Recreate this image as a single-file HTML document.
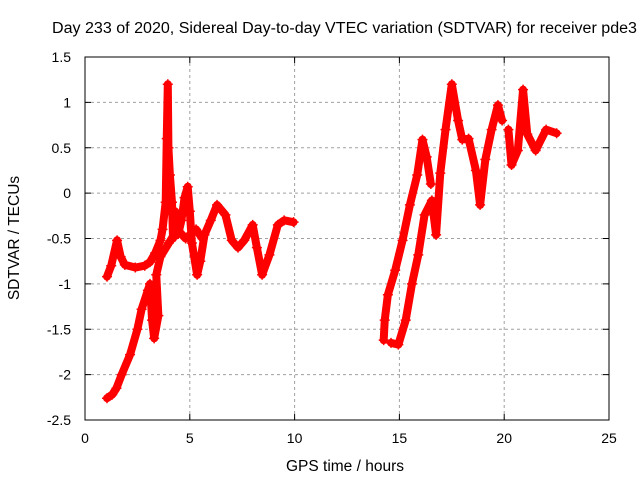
<!DOCTYPE html>
<html><head><meta charset="utf-8"><style>
body{margin:0;background:#fff;}
svg{display:block;font-family:"Liberation Sans",sans-serif;}
</style></head><body>
<svg id="chart" width="640" height="480" viewBox="0 0 640 480">
<text x="344.5" y="33" text-anchor="middle" font-size="15.5" textLength="585" lengthAdjust="spacingAndGlyphs">Day 233 of 2020, Sidereal Day-to-day VTEC variation (SDTVAR) for receiver pde3</text>
<text x="345" y="471" text-anchor="middle" font-size="15.5">GPS time / hours</text>
<text transform="translate(19,238) rotate(-90)" text-anchor="middle" font-size="15.5">SDTVAR / TECUs</text>
<g id="grid"></g>
<g id="ticks"></g>
<g id="series"></g>
<rect x="85" y="57" width="524" height="363" fill="none" stroke="#000" stroke-width="1"/>
</svg>
<script>
const xTicks=[0,5,10,15,20,25];
const yTicks=[1.5,1,0.5,0,-0.5,-1,-1.5,-2,-2.5];
const yTickLabels=["1.5","1","0.5","0","-0.5","-1","-1.5","-2","-2.5"];
const seriesUpperLeft=[[1.05,-0.92],[1.25,-0.8],[1.53,-0.52],[1.7,-0.7],[1.9,-0.79],[2.4,-0.82],[2.85,-0.8],[3.1,-0.76],[3.35,-0.66],[3.6,-0.52],[3.7,-0.4],[3.85,-0.1],[3.9,0.6],[3.95,1.2],[3.98,0.5],[4.05,0.2],[4.15,-0.1],[4.2,-0.5],[4.3,-0.2],[4.45,-0.45],[4.6,-0.3],[4.75,-0.05],[4.9,0.07],[5.0,-0.2],[5.1,-0.55],[5.35,-0.9],[5.5,-0.75],[5.7,-0.46],[6.0,-0.3],[6.3,-0.13],[6.7,-0.24],[7.0,-0.52],[7.3,-0.6],[7.6,-0.52],[8.0,-0.35],[8.2,-0.6],[8.45,-0.9],[8.8,-0.68],[9.2,-0.35],[9.5,-0.3],[9.95,-0.32]];
const seriesLowerLeft=[[1.05,-2.26],[1.3,-2.22],[1.5,-2.15],[1.75,-2.0],[2.15,-1.78],[2.5,-1.5],[2.7,-1.28],[3.0,-1.07],[3.1,-1.0],[3.2,-1.4],[3.3,-1.6],[3.5,-1.35],[3.4,-0.9],[3.6,-0.7],[4.0,-0.55],[4.4,-0.4],[4.8,-0.5],[5.3,-0.4],[5.6,-0.5]];
const seriesRightA=[[14.25,-1.62],[14.3,-1.4],[14.45,-1.12],[14.8,-0.85],[15.15,-0.52],[15.5,-0.13],[15.85,0.2],[16.1,0.59],[16.3,0.4],[16.5,0.1]];
const seriesRightB=[[14.6,-1.65],[14.95,-1.67],[15.3,-1.4],[15.6,-1.0],[15.9,-0.68],[16.2,-0.24],[16.55,-0.08],[16.75,-0.46],[16.95,0.22],[17.2,0.7],[17.5,1.2],[17.8,0.8],[18.0,0.59],[18.3,0.6],[18.65,0.25],[18.85,-0.13],[19.1,0.37],[19.4,0.7],[19.7,0.97],[19.9,0.8]];
const seriesRightC=[[20.2,0.7],[20.35,0.31],[20.65,0.47],[20.9,1.14],[21.1,0.65],[21.5,0.47],[22.0,0.7],[22.5,0.66]];
const allSeries=[seriesUpperLeft,seriesLowerLeft,seriesRightA,seriesRightB,seriesRightC];
const seriesNames=["series-upper-left","series-lower-left","series-right-a","series-right-b","series-right-c"];
const X=h=>85+h*524/25;
const Y=v=>57+(1.5-v)*363/4;
const ns="http://www.w3.org/2000/svg";
const grid=document.getElementById('grid'),ticks=document.getElementById('ticks'),ser=document.getElementById('series');
function mk(t,a,p){const e=document.createElementNS(ns,t);for(const k in a)e.setAttribute(k,a[k]);p.appendChild(e);return e;}
xTicks.forEach(t=>{const x=X(t);
 if(t>0&&t<25){const g=mk('line',{x1:x,x2:x,y1:57,y2:420,stroke:'#a0a0a0','stroke-dasharray':'3,3'},grid);}
 mk('line',{x1:x,x2:x,y1:420,y2:414,stroke:'#000'},ticks);mk('line',{x1:x,x2:x,y1:57,y2:63,stroke:'#000'},ticks);
 const l=mk('text',{x:x,y:443,'text-anchor':'middle','font-size':14},ticks);l.textContent=t;
 });
yTicks.forEach((t,i)=>{const y=Y(t);
 if(i>0&&i<yTicks.length-1){const g=mk('line',{x1:85,x2:609,y1:y,y2:y,stroke:'#a0a0a0','stroke-dasharray':'3,3'},grid);}
 mk('line',{x1:85,x2:91,y1:y,y2:y,stroke:'#000'},ticks);mk('line',{x1:609,x2:603,y1:y,y2:y,stroke:'#000'},ticks);
 const l=mk('text',{x:71,y:y+5,'text-anchor':'end','font-size':14},ticks);l.textContent=yTickLabels[i];
 });
allSeries.forEach((s,i)=>{
 const g=mk('g',{},ser);
 
 
 mk('polyline',{points:s.map(p=>X(p[0])+','+Y(p[1])).join(' '),fill:'none',stroke:'#f00','stroke-width':8,'stroke-linejoin':'round','stroke-linecap':'round'},g);
 s.forEach(p=>{const x=X(p[0]),y=Y(p[1]);
  const m=mk('path',{d:`M${x-5},${y}H${x+5}M${x},${y-5}V${y+5}`,stroke:'#f00','stroke-width':1.5},g);
  
  });
});
</script>
</body></html>
